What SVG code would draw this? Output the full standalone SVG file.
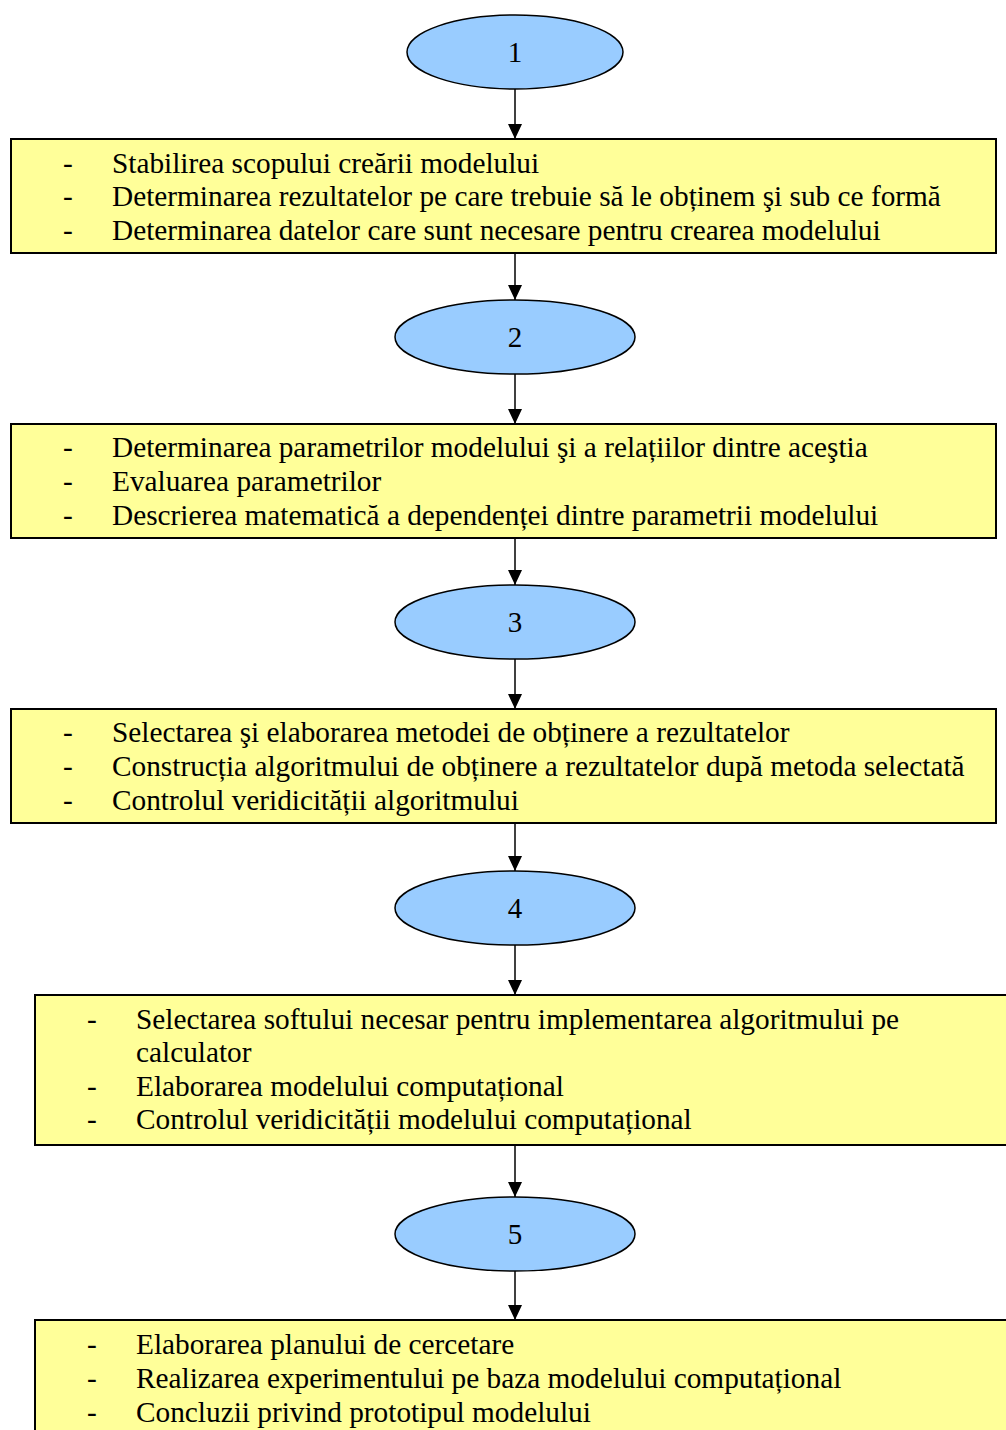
<svg xmlns="http://www.w3.org/2000/svg" width="1006" height="1430" viewBox="0 0 1006 1430">
  <style>
    .step { fill: #99CCFF; stroke: #000; stroke-width: 1.5; }
    .box { fill: #FFFF99; stroke: #000; stroke-width: 2; }
    .num { font-family: "Liberation Serif", "Times New Roman", serif; font-size: 29px; fill: #000; text-anchor: middle; }
    .txt { font-family: "Liberation Serif", "Times New Roman", serif; font-size: 29.3px; fill: #000; }
    .link { stroke: #000; stroke-width: 1.5; fill: none; marker-end: url(#arrow); }
  </style>
  <defs>
    <marker id="arrow" viewBox="0 0 15 14" refX="15" refY="7" markerWidth="15" markerHeight="14" markerUnits="userSpaceOnUse" orient="auto">
      <path d="M0,0 L15,7 L0,14 Z" fill="#000"/>
    </marker>
  </defs>
  <rect width="1006" height="1430" fill="#fff"/>

  <!-- connectors -->
  <g id="connectors">
    <line class="link" x1="515" y1="89" x2="515" y2="139"/>
    <line class="link" x1="515" y1="253" x2="515" y2="300"/>
    <line class="link" x1="515" y1="374" x2="515" y2="424"/>
    <line class="link" x1="515" y1="538" x2="515" y2="585"/>
    <line class="link" x1="515" y1="659" x2="515" y2="709"/>
    <line class="link" x1="515" y1="823" x2="515" y2="871"/>
    <line class="link" x1="515" y1="945" x2="515" y2="995"/>
    <line class="link" x1="515" y1="1145" x2="515" y2="1197"/>
    <line class="link" x1="515" y1="1271" x2="515" y2="1320"/>
  </g>

  <g id="step1">
    <ellipse class="step" cx="515" cy="52" rx="108" ry="37"/>
    <text class="num" x="515" y="62">1</text>
  </g>
  <g id="box1">
    <rect class="box" x="11" y="139" width="985" height="114"/>
    <text class="txt" x="63" y="173">-</text><text class="txt" x="112" y="173">Stabilirea scopului creării modelului</text>
    <text class="txt" x="63" y="206">-</text><text class="txt" x="112" y="206">Determinarea rezultatelor pe care trebuie să le obținem şi sub ce formă</text>
    <text class="txt" x="63" y="240">-</text><text class="txt" x="112" y="240">Determinarea datelor care sunt necesare pentru crearea modelului</text>
  </g>

  <g id="step2">
    <ellipse class="step" cx="515" cy="337" rx="120" ry="37"/>
    <text class="num" x="515" y="347">2</text>
  </g>
  <g id="box2">
    <rect class="box" x="11" y="424" width="985" height="114"/>
    <text class="txt" x="63" y="457">-</text><text class="txt" x="112" y="457">Determinarea parametrilor modelului şi a relațiilor dintre aceştia</text>
    <text class="txt" x="63" y="491">-</text><text class="txt" x="112" y="491">Evaluarea parametrilor</text>
    <text class="txt" x="63" y="525">-</text><text class="txt" x="112" y="525">Descrierea matematică a dependenței dintre parametrii modelului</text>
  </g>

  <g id="step3">
    <ellipse class="step" cx="515" cy="622" rx="120" ry="37"/>
    <text class="num" x="515" y="632">3</text>
  </g>
  <g id="box3">
    <rect class="box" x="11" y="709" width="985" height="114"/>
    <text class="txt" x="63" y="742">-</text><text class="txt" x="112" y="742">Selectarea şi elaborarea metodei de obținere a rezultatelor</text>
    <text class="txt" x="63" y="776">-</text><text class="txt" x="112" y="776">Construcția algoritmului de obținere a rezultatelor după metoda selectată</text>
    <text class="txt" x="63" y="810">-</text><text class="txt" x="112" y="810">Controlul veridicității algoritmului</text>
  </g>

  <g id="step4">
    <ellipse class="step" cx="515" cy="908" rx="120" ry="37"/>
    <text class="num" x="515" y="918">4</text>
  </g>
  <g id="box4">
    <rect class="box" x="35" y="995" width="980" height="150"/>
    <text class="txt" x="87" y="1029">-</text><text class="txt" x="136" y="1029">Selectarea softului necesar pentru implementarea algoritmului pe</text>
    <text class="txt" x="136" y="1062">calculator</text>
    <text class="txt" x="87" y="1096">-</text><text class="txt" x="136" y="1096">Elaborarea modelului computațional</text>
    <text class="txt" x="87" y="1129">-</text><text class="txt" x="136" y="1129">Controlul veridicității modelului computațional</text>
  </g>

  <g id="step5">
    <ellipse class="step" cx="515" cy="1234" rx="120" ry="37"/>
    <text class="num" x="515" y="1244">5</text>
  </g>
  <g id="box5">
    <rect class="box" x="35" y="1320" width="980" height="130"/>
    <text class="txt" x="87" y="1354">-</text><text class="txt" x="136" y="1354">Elaborarea planului de cercetare</text>
    <text class="txt" x="87" y="1388">-</text><text class="txt" x="136" y="1388">Realizarea experimentului pe baza modelului computațional</text>
    <text class="txt" x="87" y="1422">-</text><text class="txt" x="136" y="1422">Concluzii privind prototipul modelului</text>
  </g>
</svg>
